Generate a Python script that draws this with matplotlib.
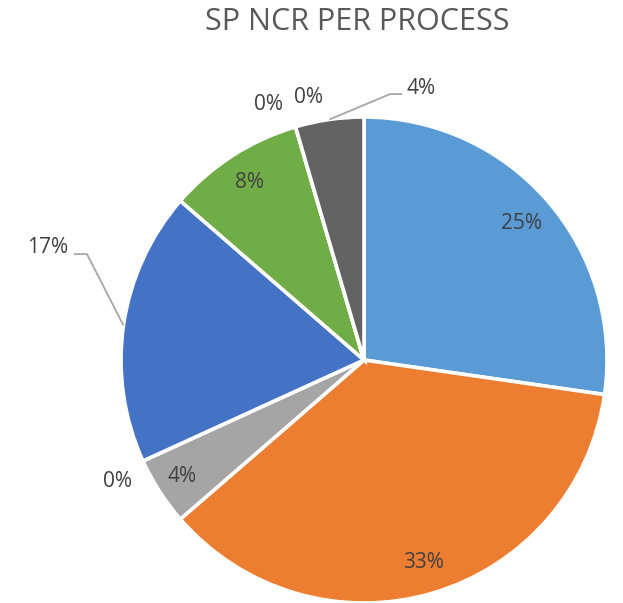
import numpy as np
import matplotlib
matplotlib.use("Agg")
import matplotlib.pyplot as plt

# ---- data ----
categories = ["P1", "P2", "P3", "P4", "P5", "P6", "P7", "P8", "P9"]
counts = [6, 8, 1, 0, 4, 2, 0, 0, 1]
pct_labels = ["25%", "33%", "4%", "0%", "17%", "8%", "0%", "0%", "4%"]
colors = ["#5B9BD5", "#ED7D31", "#A5A5A5", "#FFC000", "#4472C4",
          "#70AD47", "#255E91", "#9E480E", "#636363"]
title = "SP NCR PER PROCESS"

# ---- layout (pixel units, y up) ----
W, H = 623, 603
CX, CY, R = 364, 243, 243
# placement: ("in", frac) or ("out", text_dx, text_dy, ha, elbow)  elbow=(dx,dy,run) or None
placement = [
    ("in", 0.86),
    ("in", 0.87),
    ("in", 0.89),
    ("out", -25, -21, "center", None),
    ("out", -55, 78, "right", (-36.5, 71.3, -13)),
    ("in", 0.87),
    ("out", -27, 22, "center", None),
    ("out", 13, 29, "center", None),
    ("out", 77, 31, "left", (60.7, 25.4, 12)),
]

plt.rcParams["font.family"] = ["Open Sans", "DejaVu Sans"]
fig = plt.figure(figsize=(W / 100, H / 100), dpi=100)
ax = fig.add_axes([0, 0, 1, 1])
ax.set_xlim(0, W)
ax.set_ylim(0, H)
ax.set_aspect("equal")
ax.axis("off")

wedges, _ = ax.pie(counts, colors=colors, startangle=90, counterclock=False,
                   radius=R, center=(CX, CY),
                   wedgeprops=dict(edgecolor="white", linewidth=2.6))
ax.set_xlim(0, W)
ax.set_ylim(0, H)

txt_color = "#404040"
for w, lab, pl in zip(wedges, pct_labels, placement):
    mid = np.deg2rad((w.theta1 + w.theta2) / 2)
    if pl[0] == "in":
        f = pl[1]
        ax.text(CX + f * R * np.cos(mid), CY + f * R * np.sin(mid), lab,
                ha="center", va="center", fontsize=15, color=txt_color)
    else:
        _, tdx, tdy, ha, elbow = pl
        ax_ = CX + R * np.cos(mid)
        ay_ = CY + R * np.sin(mid)
        if elbow is not None:
            ex, ey, run = elbow
            ax.plot([ax_, ax_ + ex, ax_ + ex + run], [ay_, ay_ + ey, ay_ + ey],
                    color="#A6A6A6", lw=1.3, solid_capstyle="butt")
        ax.text(ax_ + tdx, ay_ + tdy, lab, ha=ha, va="center",
                fontsize=15, color=txt_color)

ax.text(357, H - 22, title, ha="center", va="center", fontsize=22,
        color="#595959")

fig.savefig("out.png", dpi=100)
